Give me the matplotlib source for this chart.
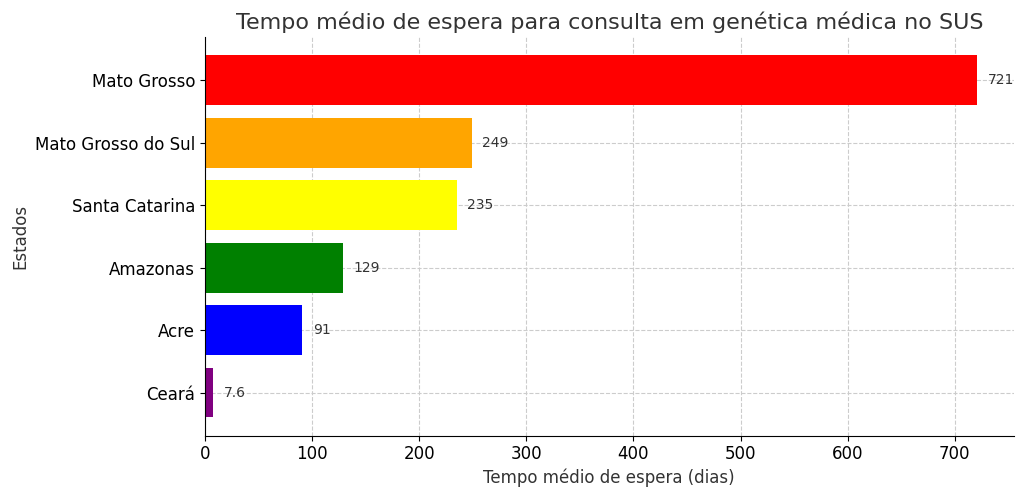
import matplotlib
matplotlib.use("Agg")
import matplotlib.pyplot as plt

estados = ["Mato Grosso", "Mato Grosso do Sul", "Santa Catarina", "Amazonas", "Acre", "Ceará"]
dias = [721, 249, 235, 129, 91, 7.6]
cores = ["red", "orange", "yellow", "green", "blue", "purple"]
rotulos = ["721", "249", "235", "129", "91", "7.6"]

fig, ax = plt.subplots(figsize=(10.24, 4.95), dpi=100)
ax.barh(estados[::-1], dias[::-1], color=cores[::-1], zorder=2)
for y, (v, t) in enumerate(zip(dias[::-1], rotulos[::-1])):
    ax.text(v + 10, y, t, va="center", fontsize=10, color="#333333")
ax.set_xlim(0, 755)
ax.set_title("Tempo médio de espera para consulta em genética médica no SUS", fontsize=16, color="#333333")
ax.set_xlabel("Tempo médio de espera (dias)", fontsize=12, color="#333333")
ax.set_ylabel("Estados", fontsize=12, color="#333333")
ax.tick_params(labelsize=12)
ax.grid(True, linestyle="--", color="#cccccc", zorder=0)
ax.spines["top"].set_visible(False)
ax.spines["right"].set_visible(False)
plt.subplots_adjust(left=0.2, right=0.99, top=0.925, bottom=0.12)
fig.savefig("out.png")
